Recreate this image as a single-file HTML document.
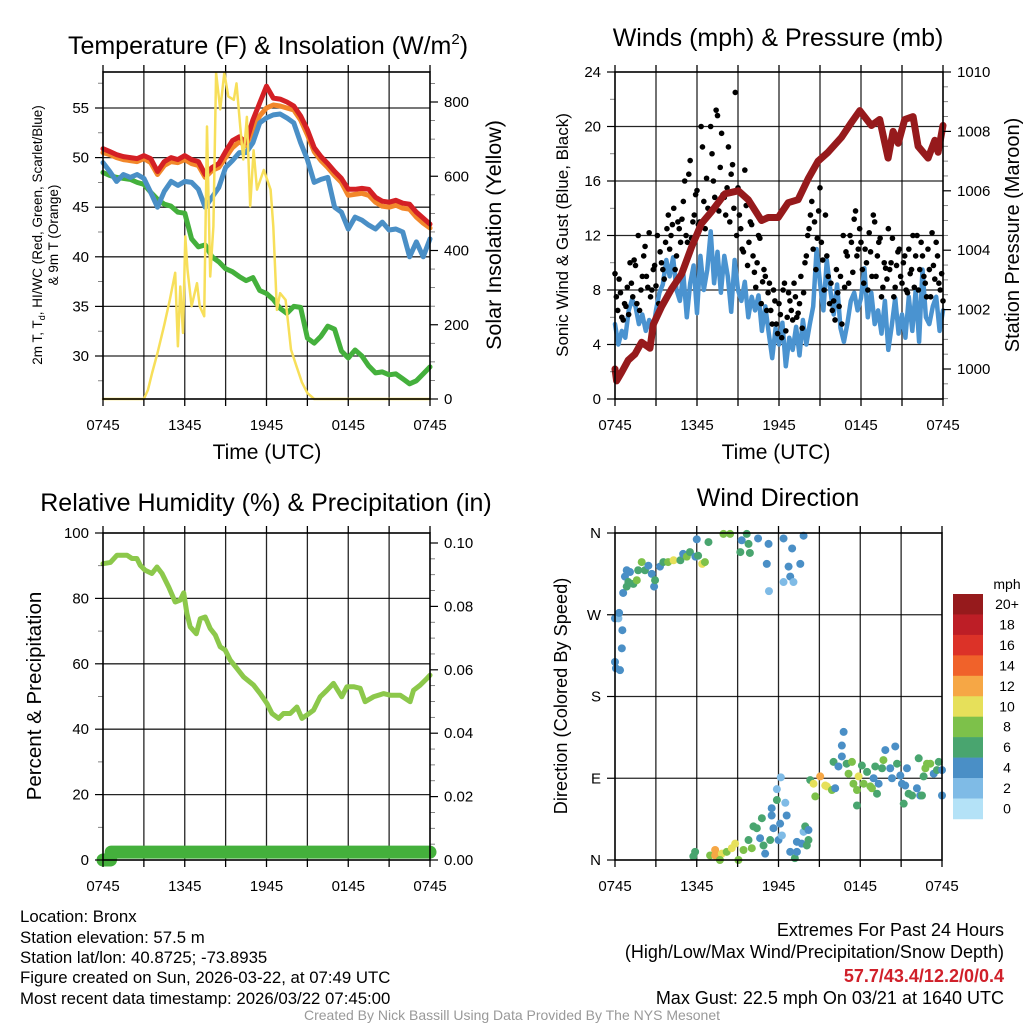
<!DOCTYPE html>
<html><head><meta charset="utf-8">
<style>
html,body{margin:0;padding:0;background:#fff;}
svg{display:block;font-family:"Liberation Sans",Arial,sans-serif;}
</style></head>
<body>
<svg id="fig" width="1024" height="1024" viewBox="0 0 1024 1024" xmlns="http://www.w3.org/2000/svg">
<rect width="1024" height="1024" fill="#fff"/>
<g id="layer-grid"></g>
<g id="layer-data"></g>
<g id="layer-frame"></g>
<g id="layer-text" fill="#000">
<text x="268" y="54" font-size="25" text-anchor="middle">Temperature (F) &amp; Insolation (W/m<tspan font-size="15" dy="-10">2</tspan><tspan dy="10">)</tspan></text>
<text x="778" y="46" font-size="25" text-anchor="middle">Winds (mph) &amp; Pressure (mb)</text>
<text x="266" y="511" font-size="25" text-anchor="middle">Relative Humidity (%) &amp; Precipitation (in)</text>
<text x="778" y="506" font-size="25" text-anchor="middle">Wind Direction</text>
<text x="267" y="459" font-size="21" text-anchor="middle">Time (UTC)</text>
<text x="776" y="459" font-size="21" text-anchor="middle">Time (UTC)</text>
<text transform="translate(42,235) rotate(-90)" font-size="13.5" text-anchor="middle">2m T, T<tspan font-size="9" dy="3">d</tspan><tspan dy="-3">, HI/WC (Red, Green, Scarlet/Blue)</tspan></text>
<text transform="translate(58,235) rotate(-90)" font-size="13.5" text-anchor="middle">&amp; 9m T (Orange)</text>
<text transform="translate(501,235) rotate(-90)" font-size="21.5" text-anchor="middle">Solar Insolation (Yellow)</text>
<text transform="translate(568,235) rotate(-90)" font-size="17" text-anchor="middle">Sonic Wind &amp; Gust (Blue, Black)</text>
<text transform="translate(1019,235) rotate(-90)" font-size="20" text-anchor="middle">Station Pressure (Maroon)</text>
<text transform="translate(41,696) rotate(-90)" font-size="20.5" text-anchor="middle">Percent &amp; Precipitation</text>
<text transform="translate(567,696) rotate(-90)" font-size="18.2" text-anchor="middle">Direction (Colored By Speed)</text>
<text x="1007" y="589" font-size="14" text-anchor="middle">mph</text>
<g font-size="16.8">
<text x="20" y="922">Location: Bronx</text>
<text x="20" y="943">Station elevation: 57.5 m</text>
<text x="20" y="963">Station lat/lon: 40.8725; -73.8935</text>
<text x="20" y="983">Figure created on Sun, 2026-03-22, at 07:49 UTC</text>
<text x="20" y="1004">Most recent data timestamp: 2026/03/22 07:45:00</text>
</g>
<g font-size="18" text-anchor="end">
<text x="1004" y="936">Extremes For Past 24 Hours</text>
<text x="1004" y="958">(High/Low/Max Wind/Precipitation/Snow Depth)</text>
<text x="1004" y="982" fill="#d0202a" font-weight="bold">57.7/43.4/12.2/0/0.4</text>
<text x="1004" y="1004">Max Gust: 22.5 mph On 03/21 at 1640 UTC</text>
</g>
<text x="512" y="1020" font-size="14" fill="#999" text-anchor="middle">Created By Nick Bassill Using Data Provided By The NYS Mesonet</text>
</g>
</svg>
<script>
// ---------- DATA ----------
const timeLabels = ["0745","1345","1945","0145","0745"];
const halfHourly = 0.5;
const redTemp = [50.9,50.6,50.3,50.1,50.0,49.9,50.2,49.9,48.6,49.6,50.0,49.8,50.2,49.8,49.6,48.3,49.0,49.4,50.6,51.7,52.1,51.5,53.8,55.5,57.2,56.0,55.9,55.6,55.2,54.2,52.8,51.0,50.1,49.4,48.6,47.9,46.8,46.8,46.9,46.8,46.0,45.6,45.5,45.7,45.4,45.3,44.5,43.9,43.3];
const orangeTemp = [50.5,50.3,50.0,49.8,49.7,49.6,49.9,49.5,48.3,49.2,49.6,49.5,49.8,49.4,49.2,48.0,48.7,49.0,50.0,51.0,51.6,51.2,52.8,54.2,55.0,55.3,55.2,55.0,54.8,53.8,52.3,50.6,49.7,49.0,48.2,47.5,46.2,46.3,46.4,46.2,45.5,45.1,45.0,45.2,44.9,44.8,44.0,43.4,42.9];
const blueTemp = [49.5,48.6,47.6,48.3,48.0,48.3,47.9,46.5,45.0,46.6,47.6,47.2,47.6,47.5,46.8,45.0,46.0,47.0,49.0,49.7,50.5,50.5,51.5,53.5,54.0,54.3,54.4,54.0,53.5,51.5,49.8,47.5,47.8,48.0,45.0,44.5,42.8,44.0,43.7,43.2,42.8,43.5,42.7,42.8,42.5,40.0,41.5,40.0,41.8];
const dewpoint = [48.5,48.2,48.0,47.9,47.8,47.5,47.3,46.5,45.8,45.3,45.1,44.5,44.4,41.8,41.0,41.2,40.0,39.5,38.8,38.5,38.0,37.6,37.9,36.6,36.3,35.7,34.8,34.3,35.0,34.9,31.8,31.3,32.0,33.0,32.7,30.5,29.8,30.6,30.0,29.0,28.3,28.4,28.1,28.2,27.7,27.2,27.5,28.2,28.9];
const solarT = [0,3.0,3.3,3.6,4.0,4.5,4.9,5.3,5.5,5.67,5.87,6.04,6.2,6.5,6.9,7.1,7.43,7.63,7.87,8.1,8.3,8.6,8.9,9.2,9.6,9.8,10.07,10.3,10.56,10.8,11.05,11.3,11.8,12.3,12.5,12.76,13.0,13.4,13.8,14.2,14.6,15.0,15.5,24];
const solarV = [0,0,25,70,124,200,267,340,142,303,178,438,348,250,312,250,223,734,330,465,878,780,878,815,806,850,735,645,760,519,670,564,617,564,465,240,285,267,133,88,45,16,0,0];

const windStep = 0.25;
const sonicWind = [5.5,4,5,4.5,6.5,7.3,6.8,5.5,6.2,5.0,5.8,4.8,6.5,7.8,8.4,10.2,9.0,10.4,8.0,7.2,9.2,6.0,8.5,9.8,6.3,10.5,8.0,9.5,12.3,8.5,10.8,7.8,10.5,9.0,6.4,10.2,8.0,7.2,8.6,6.0,7.5,6.5,7.6,5.0,6.8,4.8,3.0,5.2,4.0,5.6,2.4,4.5,3.6,5.3,3.2,5.8,4.0,5.5,6.8,11.0,8.5,6.5,10.2,8.0,6.2,8.4,5.2,4.2,5.5,7.2,7.8,6.5,7.4,9.6,6.0,7.8,5.5,6.5,4.8,7.2,3.6,5.4,7.4,4.8,6.2,4.5,7.5,5.0,8.0,4.2,9.5,6.0,5.5,6.8,7.5,5.0,6.5];
const gustStep = 0.2;
const gustA = [9.2,6.5,7.8,5.8,6.8, 6.2,8.5,10.2,7.0,6.5, 9.0,11.2,8.2,7.5,9.5, 8.3,7.0,10.0,8.8,12.5, 11.0,12.8,9.5,13.0,11.5, 14.5,12.0,16.5,11.8,13.5, 15.3,13.0,18.5,12.5,14.0, 20.0,16.0,21.2,13.8,19.5, 14.8,15.5,13.0,17.2,22.5, 15.5,12.5,10.8,14.2,11.5, 12.8,9.3,10.0,11.8,8.6, 9.0,7.8,6.5,8.0,5.5, 7.0,4.5,8.5,6.0,7.2, 5.8,7.5,6.3,9.0,7.8, 10.5,12.5,14.5,13.0,11.8, 15.5,10.2,13.5,9.0,8.5, 7.2,9.5,6.8,5.5,8.2, 10.5,12.0,9.3,13.8,11.0, 11.5,8.5,10.0,12.2,9.0, 13.0,10.5,11.8,8.2,9.6, 12.5,10.0,7.5,9.8,11.0, 8.5,10.5,7.8,9.2,12.0, 10.5,8.0,11.5,9.0,7.5, 9.5,12.2,8.8,10.5,8.0,7.2];
const gustB = [7.5,8.8,6.0,7.0,8.2, 10.0,7.5,9.8,12.0,8.0, 10.5,9.0,12.2,8.0,9.8, 12.0,10.8,9.5,11.5,13.5, 12.0,14.0,10.5,12.5,13.2, 16.0,11.5,17.5,13.0,15.0, 12.8,20.0,14.5,16.2,13.5, 18.0,14.8,20.8,17.0,15.0, 13.5,18.5,16.5,14.0,12.0, 13.5,11.0,16.8,9.8,13.0, 10.5,8.2,12.0,7.0,9.5, 6.5,8.5,5.5,7.2,4.8, 6.2,8.0,5.0,7.8,6.5, 8.5,6.0,7.0,5.2,10.0, 12.0,13.5,11.0,9.5,13.8, 11.5,8.0,10.5,7.0,6.5, 5.8,7.8,9.0,12.0,10.8, 8.5,11.5,13.2,10.5,12.5, 9.5,11.0,8.0,10.8,13.5, 9.0,11.5,7.5,10.0,8.8, 9.5,11.8,8.2,10.8,9.0, 10.0,8.0,11.0,9.5,8.2, 12.0,9.5,10.5,8.5,11.0, 7.5,9.8,11.5,8.5,9.2];
const pressT = [0,0.12,0.5,0.97,1.46,1.95,2.56,2.8,3.41,4.14,4.87,5.6,6.33,7.06,8.04,9.02,9.75,10.72,11.21,11.94,12.67,13.40,14.13,14.86,15.59,16.57,17.3,17.91,18.76,19.37,19.98,20.35,20.72,21.2,21.81,22.18,22.91,23.4,23.64,24];
const pressV = [1000.0,999.6,999.9,1000.3,1000.5,1000.9,1000.7,1001.5,1002.1,1002.7,1003.2,1004.1,1004.9,1005.3,1005.9,1006.0,1005.7,1005.0,1005.1,1005.1,1005.6,1005.7,1006.4,1007.0,1007.3,1007.8,1008.3,1008.7,1008.2,1008.4,1007.1,1008.0,1007.6,1008.4,1008.5,1007.5,1007.1,1007.7,1007.3,1008.2];

const rhT = [0,0.54,1.03,1.76,2.13,2.49,2.74,3.1,3.59,3.96,4.33,4.82,5.3,5.67,5.92,6.16,6.4,6.85,7.14,7.5,7.87,8.24,8.6,8.97,9.34,9.83,10.32,11.05,11.54,12.03,12.4,12.89,13.25,13.74,14.23,14.6,14.96,15.45,15.94,16.43,16.92,17.53,17.9,18.39,18.88,19.24,19.85,20.59,21.08,21.81,22.54,22.79,23.28,23.77,24];
const rhV = [90.6,91.0,93.2,93.2,92.2,92.2,90.1,88.6,87.6,89.6,87.6,83.5,78.9,79.5,81.7,75.4,71.3,69.2,73.8,74.3,70.8,68.8,65.2,64.2,61.1,58.6,56.0,53.5,50.9,47.9,44.8,43.3,44.8,44.8,46.8,43.3,44.3,45.8,49.9,51.9,54.0,49.9,53.0,53.0,52.5,48.4,49.9,50.9,50.4,50.4,48.4,51.9,53.5,55.5,56.5];
const precipT = [0,0.55,0.6,24];
const precipV = [0,0,0.0025,0.0025];

const dirT = [0,0.25,0.3,0,0.07,0.37,0.5,0.54,0.6,0.86,0.73,0.86,1.1,0.98,1.35,1.6,1.7,1.96,2.2,2.45,2.7,2.87,2.94,3.3,3.55,3.9,4.3,4.8,5.0,5.27,5.5,5.9,6.1,6.4,6.6,6.86,6.0,7.96,8.45,9.3,9.67,9.8,9.2,9.9,10.5,11.27,11.14,11.3,12.37,13.0,12.37,12.74,12.86,13.1,13.6,13.84,
 5.75,5.88,6.98,7.35,7.35,7.84,7.7,8.2,8.57,8.82,9.06,9.43,9.8,10.04,10.16,10.41,10.65,10.78,11.02,10.9,11.39,11.63,11.5,11.5,11.88,12.0,12.12,11.88,12.17,12.5,12.25,12.6,12.86,13.2,13.35,13.35,13.7,13.84,13.96,14.2,14.08,14.2,
 14.33,14.57,14.7,15.06,15.43,15.55,15.92,16.16,16.04,16.4,16.65,16.65,16.78,17.0,17.14,17.39,17.5,17.76,17.76,17.88,18.12,18.25,18.5,18.74,18.86,18.98,19.1,19.23,19.35,19.6,19.7,19.84,20.2,20.33,20.57,20.7,20.94,21.06,21.19,21.3,21.43,21.55,21.8,22.16,22.29,22.4,22.53,22.65,22.78,22.9,23.14,23.39,23.63,23.76,24.0,24.0];
const dirV = [266,266,272,218,211,209,233,253,294,301,312,319,317,306,304,308,319,328,319,324,315,301,308,323,328,328,330,330,337,334,339,334,335,326,328,350,353,359,359,352,359,348,339,338,354,348,326,296,354,343,306,323,312,306,326,357,
 4,9,5,11,5,7,0,9,13,18,0,11,22,13,37,35,24,46,7,16,22,35,49,57,66,22,40,78,91,63,27,49,9,2,9,20,18,31,37,33,16,22,
 88,84,70,92,82,81,77,79,108,103,114,126,141,106,95,108,84,77,60,92,104,84,97,81,79,90,103,73,84,101,110,121,101,90,125,106,93,84,62,82,101,73,71,79,112,71,71,92,101,106,106,95,99,108,99,71];
const dirS = [4,2,4,4,4,4,4,4,4,6,4,4,4,6,6,8,6,8,6,4,4,4,6,4,6,8,10,6,4,8,6,4,6,10,8,6,4,8,8,4,6,6,6,6,4,4,4,2,4,4,2,4,4,2,4,4,
 6,6,8,12,12,10,8,8,10,10,8,8,6,8,6,6,4,6,4,6,6,4,4,4,6,4,4,2,2,2,2,4,4,6,4,4,4,2,6,4,6,6,
 6,10,8,12,10,10,8,4,6,4,4,4,4,6,8,8,8,8,6,10,6,8,6,8,8,4,6,6,4,6,8,4,4,4,4,6,4,4,6,4,4,6,6,4,6,4,6,6,8,8,8,4,6,6,4,4];
const speedBins = ["20+","18","16","14","12","10","8","6","4","2","0"];
const speedColors = ["#961a1c","#bd1e26","#dc3228","#f0622a","#f6a745","#e6e05a","#7dc14a","#49a56f","#4a8fc6","#7fbbe6","#b4e2f7"];

// ---------- HELPERS ----------
const NS = "http://www.w3.org/2000/svg";
const gGrid = document.getElementById('layer-grid');
const gData = document.getElementById('layer-data');
const gFrame = document.getElementById('layer-frame');
const gText = document.getElementById('layer-text');
function mk(tag, attrs, parent){ const e = document.createElementNS(NS, tag); for (const k in attrs) e.setAttribute(k, attrs[k]); parent.appendChild(e); return e; }
function lin(d0,d1,r0,r1){ return v => r0 + (v-d0)/(d1-d0)*(r1-r0); }
function pathD(xs, ys){ let d=''; for(let i=0;i<xs.length;i++){ d += (i?'L':'M') + xs[i].toFixed(1) + ',' + ys[i].toFixed(1); } return d; }

const panels = {
  temp:{L:103,R:430,T:72,B:399},
  wind:{L:615,R:943,T:72,B:399},
  rh:{L:103,R:430,T:533,B:860},
  dir:{L:615,R:942,T:533,B:860}
};
function xScale(p){ return lin(0,24,p.L,p.R); }

function frame(p, name, hLines){
  const xs = xScale(p);
  for (let h=3; h<24; h+=3){
    const l = mk('line',{x1:xs(h),x2:xs(h),y1:p.T,y2:p.B,stroke:'#000','stroke-width':1.3,opacity:0.85},gGrid);
    
    
  }
  hLines.forEach(y=>{
    const l = mk('line',{x1:p.L,x2:p.R,y1:y,y2:y,stroke:'#000','stroke-width':1.3,opacity:0.85},gGrid);
    
    
  });
  const r = mk('rect',{x:p.L,y:p.T,width:p.R-p.L,height:p.B-p.T,fill:'none',stroke:'#000','stroke-width':1.6},gFrame);
  
  
  for (let h=0; h<=24; h+=3){
    const t = mk('line',{x1:xs(h),x2:xs(h),y1:p.B,y2:p.B+7,stroke:'#000','stroke-width':1.3},gFrame);
    
    
    const tt = mk('line',{x1:xs(h),x2:xs(h),y1:p.T,y2:p.T-7,stroke:'#000','stroke-width':1.3},gFrame);
    
    
  }
  timeLabels.forEach((s,i)=>{
    const t = mk('text',{x:xs(i*6),y:p.B+31,'font-size':15,'text-anchor':'middle'},gText);
    t.textContent = s;
    
    
  });
}
function yTicks(p, name, scale, vals, labels, side, minorVals){
  vals.forEach((v,i)=>{
    const y = scale(v);
    const x0 = side==='left'? p.L : p.R;
    const dx = side==='left'? -8 : 8;
    const t = mk('line',{x1:x0,x2:x0+dx,y1:y,y2:y,stroke:'#000','stroke-width':1.2},gFrame);
    
    
    const lb = mk('text',{x:x0+(side==='left'?-14:14),y:y+5,'font-size':15,'text-anchor':side==='left'?'end':'start'},gText);
    lb.textContent = labels[i];
    
    
  });
  (minorVals||[]).forEach(v=>{
    const y = scale(v);
    const x0 = side==='left'? p.L : p.R;
    const dx = side==='left'? -5 : 5;
    const t = mk('line',{x1:x0,x2:x0+dx,y1:y,y2:y,stroke:'#000','stroke-width':0.8,opacity:0.6},gFrame);
    
    
  });
}
function line(p, name, tArr, vArr, yS, color, w){
  const xs = xScale(p);
  const d = pathD(tArr.map(xs), vArr.map(yS));
  const e = mk('path',{d:d,fill:'none',stroke:color,'stroke-width':w,'stroke-linejoin':'round','stroke-linecap':'round'},gData);
  
  
  return e;
}
function stepTimes(n, step, off){ const a=[]; for(let i=0;i<n;i++) a.push((off||0)+i*step); return a; }

// ---------- PANEL 1 : Temperature ----------
{
  const p = panels.temp;
  const yT = lin(30,55,356,108);
  const yS = lin(0,800,399,102);
  frame(p,'temp',[30,35,40,45,50,55].map(yT));
  yTicks(p,'temp-left',yT,[30,35,40,45,50,55],['30','35','40','45','50','55'],'left',[27.5,32.5,37.5,42.5,47.5,52.5,57.5]);
  yTicks(p,'solar-right',yS,[0,200,400,600,800],['0','200','400','600','800'],'right',[50,100,150,250,300,350,450,500,550,650,700,750,850]);
  const tt = stepTimes(redTemp.length, halfHourly);
  line(p,'dewpoint-line',stepTimes(dewpoint.length,halfHourly),dewpoint,yT,'#44b03c',5);
  line(p,'orange-9m-temp-line',stepTimes(orangeTemp.length,halfHourly),orangeTemp,yT,'#f2872a',5);
  line(p,'red-2m-temp-line',tt,redTemp,yT,'#d42025',5);
  line(p,'blue-windchill-line',stepTimes(blueTemp.length,halfHourly),blueTemp,yT,'#4a8fc6',5);
  line(p,'solar-insolation-line',solarT,solarV,yS,'#f7df5a',2.5);
}
// ---------- PANEL 2 : Wind ----------
{
  const p = panels.wind;
  const yW = lin(0,24,399,72);
  const yP = lin(1000,1010,369,72);
  frame(p,'wind',[4,8,12,16,20].map(yW));
  yTicks(p,'wind-left',yW,[0,4,8,12,16,20,24],['0','4','8','12','16','20','24'],'left',[2,6,10,14,18,22]);
  yTicks(p,'pressure-right',yP,[1000,1002,1004,1006,1008,1010],['1000','1002','1004','1006','1008','1010'],'right',[999,999.5,1000.5,1001,1001.5,1002.5,1003,1003.5,1004.5,1005,1005.5,1006.5,1007,1007.5,1008.5,1009,1009.5]);
  line(p,'sonic-wind-line',stepTimes(sonicWind.length,windStep),sonicWind,yW,'#4a93d0',4.5);
  const xs = xScale(p);
  [[gustA,0],[gustB,0.1]].forEach(([arr,off])=>{
    arr.forEach((v,i)=>{
      const c = mk('circle',{cx:xs(off+i*gustStep),cy:yW(v),r:2.8,fill:'#000'},gData);
      
      
    });
  });
  line(p,'pressure-line',pressT,pressV,yP,'#961a1c',7);
}
// ---------- PANEL 3 : RH ----------
{
  const p = panels.rh;
  const yR = lin(0,100,860,533);
  const yQ = lin(0,0.10,860,543);
  frame(p,'rh',[20,40,60,80].map(yR));
  yTicks(p,'rh-left',yR,[0,20,40,60,80,100],['0','20','40','60','80','100'],'left',[10,30,50,70,90]);
  yTicks(p,'precip-right',yQ,[0,0.02,0.04,0.06,0.08,0.10],['0.00','0.02','0.04','0.06','0.08','0.10'],'right',[0.005,0.01,0.015,0.025,0.03,0.035,0.045,0.05,0.055,0.065,0.07,0.075,0.085,0.09,0.095]);
  line(p,'relative-humidity-line',rhT,rhV,yR,'#8cc84b',5);
  line(p,'precipitation-line',precipT,precipV,yQ,'#44b03c',13);
}
// ---------- PANEL 4 : Direction ----------
{
  const p = panels.dir;
  const yD = lin(0,360,860,533);
  frame(p,'dir',[90,180,270].map(yD));
  yTicks(p,'dir-left',yD,[0,90,180,270,360],['N','E','S','W','N'],'left',[]);
  const xs = xScale(p);
  dirT.forEach((t,i)=>{
    const s = dirS[i];
    const bin = Math.min(10, Math.floor(s/2));
    const c = mk('circle',{cx:xs(t),cy:yD(dirV[i]),r:4,fill:speedColors[10-bin]},gData);
    
    
  });
  const cbX = 953, cbY = 594, cbW = 30, cbH = 20.45;
  speedBins.forEach((lab,i)=>{
    const r = mk('rect',{x:cbX,y:cbY+i*cbH,width:cbW,height:cbH+0.3,fill:speedColors[i]},gData);
    
    
    const t = mk('text',{x:1007,y:cbY+i*cbH+15,'font-size':14,'text-anchor':'middle'},gText);
    t.textContent = lab;
    
    
  });
}
</script>
</body></html>
